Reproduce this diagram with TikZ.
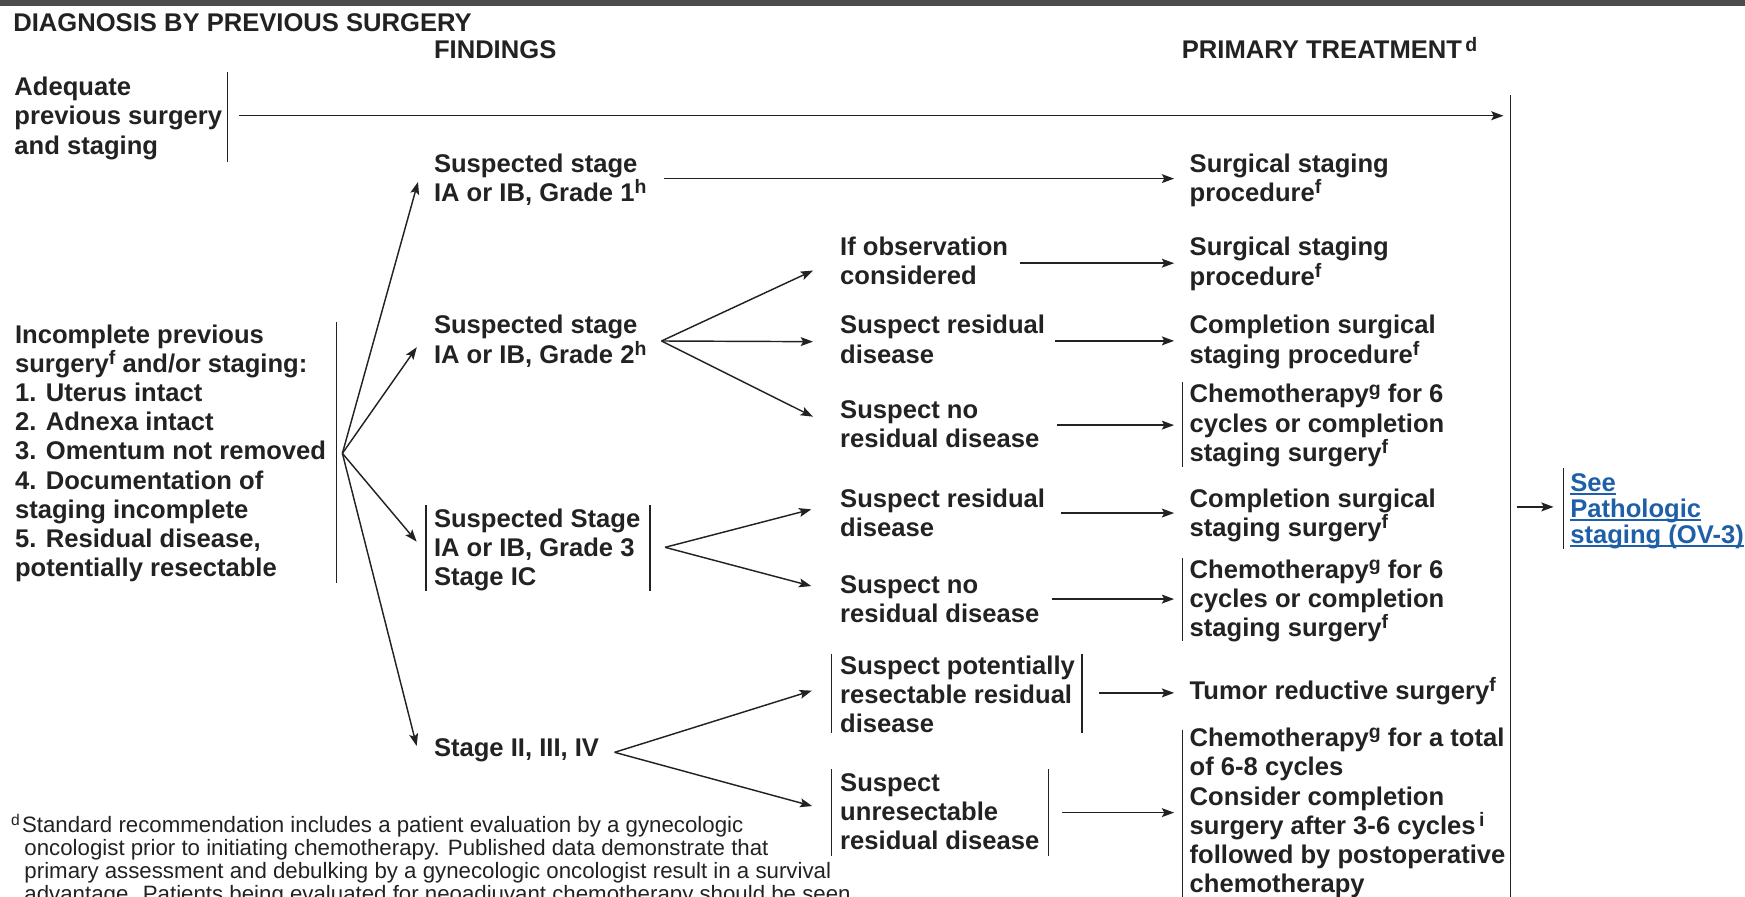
\documentclass[tikz,border=0pt]{standalone}
\usepackage{fontspec}
\setmainfont{Liberation Sans}
\usetikzlibrary{arrows.meta}

\definecolor{ink}{HTML}{222222}
\definecolor{linkblue}{HTML}{1F5FA8}
\definecolor{topbar}{HTML}{4D4D4D}

% block of lines whose baseline is that of its first line
\newcommand\ml[2][26.2pt]{\vtop{\baselineskip=#1\relax\lineskiplimit=-1000pt\relax\let\\\cr\halign{##\hfil\cr#2\crcr}}}
% footnote markers
\newcommand\sups[1]{\smash{\raisebox{7pt}{\fontsize{17.5}{17.5}\selectfont #1}}}
\newcommand\supn[1]{\smash{\raisebox{6.5pt}{\fontsize{14}{14}\selectfont #1}}}
% underlined link text
\newcommand\lnk[1]{\setbox0=\hbox{#1}\rlap{\rule[-3pt]{\wd0}{1.6pt}}\box0}

\begin{document}
\begin{tikzpicture}[x=1pt,y=-1pt,
  every node/.style={inner sep=0pt,outer sep=0pt},
  txt/.style={anchor=base west,text=ink,font=\fontsize{23}{26.2}\selectfont\bfseries},
  note/.style={anchor=base west,text=ink,font=\fontsize{20}{20.8}\selectfont},
  arr/.style={draw=ink,line width=1.3pt,-{Stealth[length=11pt,width=8pt,inset=2.2pt]}},
  bar/.style={draw=ink,line width=1.2pt}]

\useasboundingbox (0,0) rectangle (1568,806);
\clip (0,0) rectangle (1568,806);
\fill[topbar] (0,0) rectangle (1568,5);

% column headings
\node[txt] (hdiag) at (12,28) {DIAGNOSIS BY PREVIOUS SURGERY};
\node[txt] (hfind) at (390,53) {FINDINGS};
\node[txt] (htreat) at (1062,53) {PRIMARY TREATMENT\hspace{3pt}\sups{d}};

% diagnosis
\node[txt] (adeq) at (13,86) {\ml{Adequate\\previous surgery\\and staging}};
\node[txt] (incomp) at (13.5,308.5) {\ml{Incomplete previous\\surgery\sups{f} and/or staging:\\1. Uterus intact\\2. Adnexa intact\\3. Omentum not removed\\4. Documentation of\\staging incomplete\\5. Residual disease,\\potentially resectable}};

% findings
\node[txt] (g1) at (390,155) {\ml{Suspected stage\\IA or IB, Grade 1\sups{h}}};
\node[txt] (g2) at (390,300) {\ml{Suspected stage\\IA or IB, Grade 2\sups{h}}};
\node[txt] (g3) at (390,474) {\ml{Suspected Stage\\IA or IB, Grade 3\\Stage IC}};
\node[txt] (g4) at (390,680) {Stage II, III, IV};

\node[txt] (obs) at (755,229.5) {\ml{If observation\\considered}};
\node[txt] (res2) at (755,300) {\ml{Suspect residual\\disease}};
\node[txt] (nores2) at (755,376) {\ml{Suspect no\\residual disease}};
\node[txt] (res3) at (755,456) {\ml{Suspect residual\\disease}};
\node[txt] (nores3) at (755,533) {\ml{Suspect no\\residual disease}};
\node[txt] (potres) at (755,606) {\ml{Suspect potentially\\resectable residual\\disease}};
\node[txt] (unres) at (755,711) {\ml{Suspect\\unresectable\\residual disease}};

% primary treatment
\node[txt] (t1) at (1069,155) {\ml{Surgical staging\\procedure\sups{f}}};
\node[txt] (t2) at (1069,230) {\ml{Surgical staging\\procedure\sups{f}}};
\node[txt] (t3) at (1069,300) {\ml{Completion surgical\\staging procedure\sups{f}}};
\node[txt] (t4) at (1069,362) {\ml{Chemotherapy\sups{g} for 6\\cycles or completion\\staging surgery\sups{f}}};
\node[txt] (t5) at (1069,456) {\ml{Completion surgical\\staging surgery\sups{f}}};
\node[txt] (t6) at (1069,519.5) {\ml{Chemotherapy\sups{g} for 6\\cycles or completion\\staging surgery\sups{f}}};
\node[txt] (t7) at (1069,628.5) {Tumor reductive surgery\sups{f}};
\node[txt] (t8) at (1069,671) {\ml{Chemotherapy\sups{g} for a total\\of 6-8 cycles\\Consider completion\\surgery after 3-6 cycles\hspace{3pt}\sups{i}\\followed by postoperative\\chemotherapy}};

\node[txt,text=linkblue] (see) at (1411,442) {\ml[23.3pt]{\lnk{See}\\\lnk{Pathologic}\\\lnk{staging (OV-3)}}};

% footnote
\node[note] (fn) at (10,748) {\ml[20.8pt]{\supn{d}\hspace{2pt}Standard recommendation includes a patient evaluation by a gynecologic\\\hspace*{12pt}oncologist prior to initiating chemotherapy. Published data demonstrate that\\\hspace*{12pt}primary assessment and debulking by a gynecologic oncologist result in a survival\\\hspace*{12pt}advantage. Patients being evaluated for neoadjuvant chemotherapy should be seen}};

% collecting line on the right
\coordinate (vtop) at (1357,85.5);
\coordinate (vbot) at (1357,806);
\draw[bar] (vtop) -- (vbot);

% side bars
\draw[bar] ([shift={(4.5pt,5pt)}]adeq.north east) -- ([shift={(4.5pt,-2pt)}]adeq.south east);
\draw[bar] ([shift={(9.3pt,2.7pt)}]incomp.north east) -- ([shift={(9.3pt,-1pt)}]incomp.south east);
\draw[bar] ([shift={(-7.2pt,3.7pt)}]g3.north west) -- ([xshift=-7.2pt]g3.south west);
\draw[bar] ([shift={(8.7pt,3.7pt)}]g3.north east) -- ([xshift=8.7pt]g3.south east);
\draw[bar] ([shift={(-8pt,2pt)}]potres.north west) -- ([xshift=-8pt]potres.south west);
\draw[bar] ([shift={(6.5pt,2pt)}]potres.north east) -- ([xshift=6.5pt]potres.south east);
\draw[bar] ([shift={(-8pt,3.8pt)}]unres.north west) -- ([shift={(-8pt,-5.3pt)}]unres.south west);
\draw[bar] ([shift={(8pt,3.8pt)}]unres.north east) -- ([shift={(8pt,-5.3pt)}]unres.south east);
\draw[bar] ([shift={(-6.5pt,2pt)}]t4.north west) -- ([xshift=-6.5pt]t4.south west);
\draw[bar] ([shift={(-6.5pt,1.2pt)}]t6.north west) -- ([shift={(-6.5pt,1pt)}]t6.south west);
\draw[bar] ([shift={(-6.5pt,-1.2pt)}]t8.north west) -- ([xshift=-6.5pt]t8.south west);
\draw[bar] ([shift={(-6.3pt,5.7pt)}]see.north west) -- ([xshift=-6.3pt]see.south west);

% adequate staging goes straight on
\coordinate (sa) at ([shift={(15pt,-18pt)}]adeq.base east);
\draw[arr] (sa) -- ([xshift=-6pt]sa -| vtop);

% incomplete staging fans out to the findings
\coordinate (f0) at ([xshift=14.7pt]incomp.east);
\draw[arr] (f0) -- ([shift={(-14.4pt,-8.5pt)}]g1.base west);
\draw[arr] (f0) -- ([shift={(-15.5pt,-12pt)}]g2.base west);
\draw[arr] (f0) -- ([shift={(-15.6pt,-12.7pt)}]g3.base west);
\draw[arr] (f0) -- ([shift={(-15.6pt,9.7pt)}]g4.base west);

% grade 2
\coordinate (f2) at ([shift={(13.5pt,-6.4pt)}]g2.base east);
\draw[arr] (f2) -- ([shift={(-24.5pt,-13.6pt)}]obs.base west);
\draw[arr] (f2) -- ([shift={(-24.5pt,-7pt)}]res2.base west);
\draw[arr] (f2) -- ([shift={(-24.5pt,1.6pt)}]nores2.base west);

% grade 3 / stage IC
\coordinate (f3) at ([shift={(22.3pt,-17.8pt)}]g3.base east);
\draw[arr] (f3) -- ([shift={(-26pt,-1.7pt)}]res3.base west);
\draw[arr] (f3) -- ([shift={(-26pt,6.4pt)}]nores3.base west);

% stage II-IV
\coordinate (f4) at ([shift={(14pt,4pt)}]g4.base east);
\draw[arr] (f4) -- ([shift={(-25.5pt,-14.6pt)}]potres.base west);
\draw[arr] (f4) -- ([shift={(-25.2pt,-13.3pt)}]unres.base west);

% findings to treatment
\coordinate (s1) at ([shift={(15.5pt,-5.5pt)}]g1.base east);
\draw[arr] (s1) -- ([xshift=-14pt]s1 -| t1.west);
\coordinate (s2) at ([shift={(11pt,-7pt)}]obs.base east);
\draw[arr] (s2) -- ([xshift=-14pt]s2 -| t2.west);
\coordinate (s3) at ([shift={(9pt,-6.3pt)}]res2.base east);
\draw[arr] (s3) -- ([xshift=-14pt]s3 -| t3.west);
\coordinate (s4) at ([shift={(16pt,-6pt)}]nores2.base east);
\draw[arr] (s4) -- ([xshift=-14pt]s4 -| t4.west);
\coordinate (s5) at ([shift={(14pt,-5pt)}]res3.base east);
\draw[arr] (s5) -- ([xshift=-14pt]s5 -| t5.west);
\coordinate (s6) at ([shift={(11pt,-5.3pt)}]nores3.base east);
\draw[arr] (s6) -- ([xshift=-14pt]s6 -| t6.west);
\coordinate (s7) at ([shift={(22pt,-16.6pt)}]potres.base east);
\draw[arr] (s7) -- ([xshift=-14pt]s7 -| t7.west);
\coordinate (s8) at ([shift={(20.5pt,-19.2pt)}]unres.base east);
\draw[arr] (s8) -- ([xshift=-14pt]s8 -| t8.west);

% on to pathologic staging
\coordinate (seein) at ([shift={(-15pt,-13.5pt)}]see.base west);
\draw[arr] ([xshift=6pt]seein -| vtop) -- (seein);

\end{tikzpicture}
\end{document}
